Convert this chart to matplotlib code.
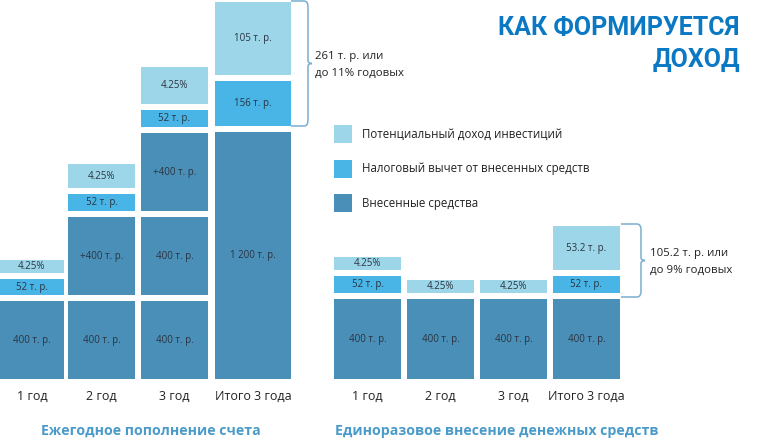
import numpy as np
import matplotlib.pyplot as plt
from matplotlib.path import Path
import matplotlib.patches as mpatches

plt.rcParams['font.family'] = ['Open Sans', 'DejaVu Sans']

# categories
cats_left = ['1 год', '2 год', '3 год', 'Итого 3 года']
cats_right = ['1 год', '2 год', '3 год', 'Итого 3 года']

# segments per column, bottom to top: (label, kind, block size as drawn)
# kind: 0 = внесенные, 1 = налоговый вычет, 2 = доход
left_segments = [
    [('400 т. р.', 0, 78), ('52 т. р.', 1, 16), ('4.25%', 2, 13)],
    [('400 т. р.', 0, 78), ('+400 т. р.', 0, 78), ('52 т. р.', 1, 17), ('4.25%', 2, 24)],
    [('400 т. р.', 0, 78), ('400 т. р.', 0, 78), ('+400 т. р.', 0, 78), ('52 т. р.', 1, 17), ('4.25%', 2, 37)],
    [('1 200 т. р.', 0, 247), ('156 т. р.', 1, 45), ('105 т. р.', 2, 73)],
]
right_segments = [
    [('400 т. р.', 0, 80), ('52 т. р.', 1, 17), ('4.25%', 2, 13)],
    [('400 т. р.', 0, 80), ('4.25%', 2, 13)],
    [('400 т. р.', 0, 80), ('4.25%', 2, 13)],
    [('400 т. р.', 0, 80), ('52 т. р.', 1, 17), ('53.2 т. р.', 2, 44)],
]

legend_labels = ['Потенциальный доход инвестиций',
                 'Налоговый вычет от внесенных средств',
                 'Внесенные средства']
colors = ['#4a8fb8', '#48b5e6', '#9dd6e9']

left_note = ['261 т. р. или', 'до 11% годовых']
right_note = ['105.2 т. р. или', 'до 9% годовых']

fig = plt.figure(figsize=(7.6, 4.4), dpi=100)
ax = fig.add_axes([0, 0, 1, 1])
# one unit = one pixel, bar base at 0
ax.set_xlim(0, 760)
ax.set_ylim(-61, 379)
ax.axis('off')

gap = 6


def draw_group(segments, centers, widths):
    for col, (segs, xc, w) in enumerate(zip(segments, centers, widths)):
        bottom = 0
        for label, kind, h in segs:
            ax.bar(xc, h, width=w, bottom=bottom, color=colors[kind], edgecolor='none')
            ax.text(xc, bottom + h / 2, label, ha='center', va='center',
                    fontsize=7, color='#2b3440')
            bottom += h + gap


left_centers = [32, 101.5, 174.5, 253]
left_widths = [64, 67, 67, 76]
right_centers = [367.5, 440.5, 513.5, 586.5]
right_widths = [67, 67, 67, 67]

draw_group(left_segments, left_centers, left_widths)
draw_group(right_segments, right_centers, right_widths)

for xc, c in zip(left_centers, cats_left):
    ax.text(xc, -17, c, ha='center', va='center', fontsize=9, color='#222222')
for xc, c in zip(right_centers, cats_right):
    ax.text(xc, -17, c, ha='center', va='center', fontsize=9, color='#222222')

ax.text(151, -52, 'Ежегодное пополнение счета', ha='center', va='center',
        fontsize=10.2, fontweight='bold', color='#4a9bc9')
ax.text(497, -52, 'Единоразовое внесение денежных средств', ha='center', va='center',
        fontsize=10.2, fontweight='bold', color='#4a9bc9')


def brace(x0, x1, ytop, ybot):
    ym = (ytop + ybot) / 2
    r = 6
    verts = [(x0, ytop), (x1 - r, ytop), (x1 - r / 3, ytop), (x1 - r / 3, ytop - r),
             (x1 - r / 3, ym + 3), (x1 - r / 3, ym), (x1 + 2, ym),
             (x1 - r / 3, ym), (x1 - r / 3, ym - 3),
             (x1 - r / 3, ybot + r), (x1 - r / 3, ybot), (x1 - r, ybot), (x0, ybot)]
    codes = [Path.MOVETO, Path.LINETO, Path.CURVE3, Path.CURVE3,
             Path.LINETO, Path.CURVE3, Path.CURVE3,
             Path.CURVE3, Path.CURVE3,
             Path.LINETO, Path.CURVE3, Path.CURVE3, Path.LINETO]
    ax.add_patch(mpatches.PathPatch(Path(verts, codes), fill=False,
                                    edgecolor='#7aaed0', lw=1.1))


brace(291, 310, 378, 253)
brace(621, 643, 155, 82)

ax.text(315, 379 - 56, left_note[0], ha='left', va='center', fontsize=8.2, color='#222222')
ax.text(315, 379 - 73, left_note[1], ha='left', va='center', fontsize=8.2, color='#222222')
ax.text(650, 379 - 253, right_note[0], ha='left', va='center', fontsize=8.2, color='#222222')
ax.text(650, 379 - 270, right_note[1], ha='left', va='center', fontsize=8.2, color='#222222')

# legend
for i, lab in enumerate(legend_labels):
    yc = 379 - (134 + 34.5 * i)
    kind = 2 - i
    ax.bar(343, 18, width=18, bottom=yc - 9, color=colors[kind], edgecolor='none')
    ax.text(362, yc, lab, ha='left', va='center', fontsize=8.3, color='#222222')

# title
ax.text(740, 379 - 28, 'КАК ФОРМИРУЕТСЯ', ha='right', va='center', fontsize=18,
        fontweight='bold', color='#0a78c2', family=['Roboto', 'DejaVu Sans'])
ax.text(740, 379 - 60, 'ДОХОД', ha='right', va='center', fontsize=18,
        fontweight='bold', color='#0a78c2', family=['Roboto', 'DejaVu Sans'])

fig.savefig('out.png', dpi=100)
